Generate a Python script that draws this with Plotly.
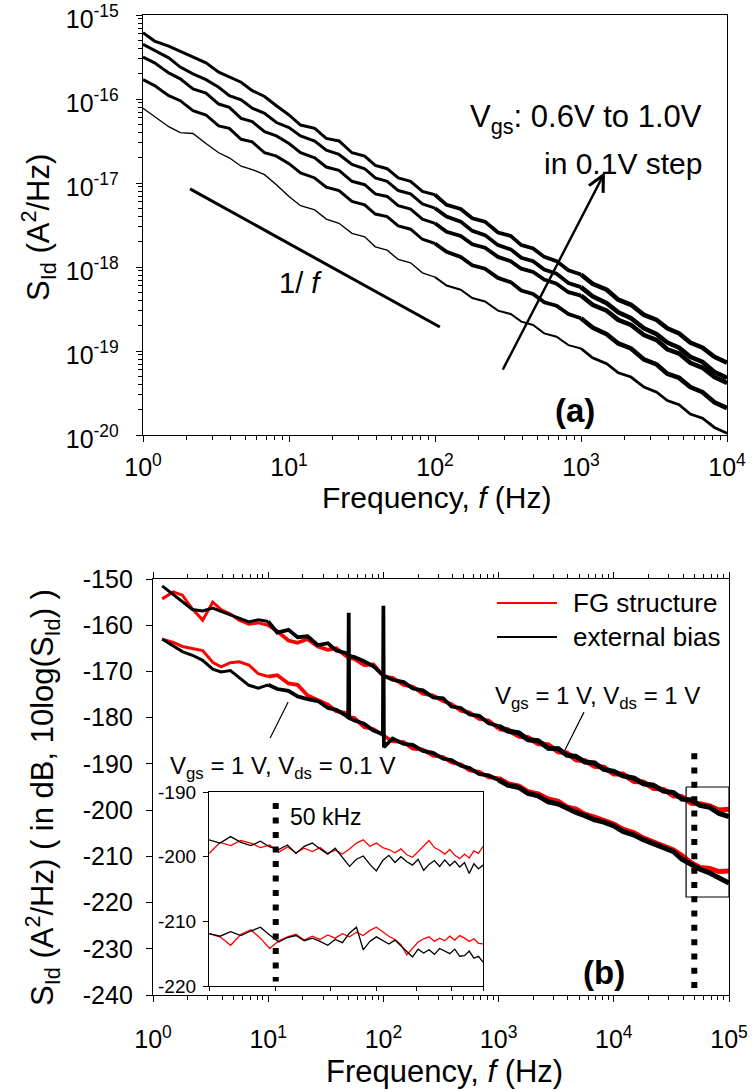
import plotly.graph_objects as go

W, H = 752, 1091
FONT = "Liberation Sans, Arial, Helvetica, sans-serif"

# ---------------- Panel (a): S_Id vs f, Vgs 0.6 .. 1.0 V (log10 of A^2/Hz) ----------------
F_A = [1, 1.2, 1.5, 1.8, 2.2, 2.7, 3.3, 3.9, 4.7, 5.6, 6.8, 8.2,
       10, 12, 15, 18, 22, 27, 33, 39, 47, 56, 68, 82,
       100, 120, 150, 180, 220, 270, 330, 390, 470, 560, 680, 820,
       1000, 1200, 1500, 1800, 2200, 2700, 3300, 3900, 4700, 5600, 6800, 8200, 10000]

LOG_S_VGS10 = [-15.21, -15.31, -15.37, -15.43, -15.50, -15.57, -15.68, -15.74, -15.80, -15.90, -15.97, -16.08,
               -16.19, -16.31, -16.35, -16.47, -16.50, -16.64, -16.68, -16.79, -16.83, -16.94, -16.98, -17.10,
               -17.14, -17.26, -17.31, -17.42, -17.46, -17.59, -17.63, -17.74, -17.78, -17.88, -17.93, -18.04,
               -18.09, -18.20, -18.27, -18.39, -18.45, -18.57, -18.63, -18.73, -18.79, -18.90, -18.96, -19.07, -19.14]
LOG_S_VGS09 = [-15.35, -15.42, -15.51, -15.62, -15.70, -15.77, -15.86, -15.96, -16.01, -16.11, -16.17, -16.28,
               -16.34, -16.44, -16.50, -16.61, -16.66, -16.78, -16.83, -16.94, -16.98, -17.09, -17.13, -17.25,
               -17.30, -17.40, -17.46, -17.57, -17.62, -17.74, -17.79, -17.89, -17.93, -18.03, -18.08, -18.19,
               -18.24, -18.35, -18.43, -18.54, -18.61, -18.73, -18.80, -18.90, -18.96, -19.07, -19.13, -19.25, -19.32]
LOG_S_VGS08 = [-15.50, -15.57, -15.69, -15.76, -15.88, -15.93, -16.06, -16.10, -16.23, -16.27, -16.39, -16.44,
               -16.53, -16.64, -16.70, -16.81, -16.85, -16.98, -17.02, -17.13, -17.16, -17.27, -17.31, -17.43,
               -17.48, -17.58, -17.63, -17.73, -17.77, -17.88, -17.93, -18.02, -18.06, -18.15, -18.20, -18.30,
               -18.34, -18.45, -18.52, -18.63, -18.69, -18.81, -18.87, -18.98, -19.03, -19.14, -19.20, -19.31, -19.38]
LOG_S_VGS07 = [-15.77, -15.84, -15.96, -16.02, -16.14, -16.19, -16.32, -16.35, -16.48, -16.51, -16.64, -16.68,
               -16.77, -16.88, -16.94, -17.05, -17.09, -17.22, -17.26, -17.37, -17.40, -17.51, -17.55, -17.67,
               -17.72, -17.82, -17.88, -17.98, -18.02, -18.13, -18.18, -18.28, -18.32, -18.42, -18.46, -18.56,
               -18.61, -18.72, -18.80, -18.91, -18.97, -19.10, -19.16, -19.27, -19.32, -19.43, -19.49, -19.61, -19.68]
LOG_S_VGS06 = [-16.11, -16.21, -16.33, -16.40, -16.41, -16.53, -16.64, -16.70, -16.80, -16.84, -16.90, -17.02,
               -17.16, -17.27, -17.32, -17.43, -17.48, -17.60, -17.64, -17.76, -17.80, -17.91, -17.95, -18.07,
               -18.12, -18.22, -18.27, -18.37, -18.41, -18.52, -18.56, -18.65, -18.69, -18.79, -18.83, -18.93,
               -18.97, -19.08, -19.15, -19.26, -19.31, -19.43, -19.49, -19.59, -19.64, -19.75, -19.80, -19.91, -19.98]

# 1/f guide line (two end points, Hz and A^2/Hz)
GUIDE_F = [2.1, 108]
GUIDE_S = [8.5e-18, 1.93e-19]

A_XTICKS = [1, 10, 100, 1000, 10000]
A_XTEXT = ["10<sup>0</sup>", "10<sup>1</sup>", "10<sup>2</sup>", "10<sup>3</sup>", "10<sup>4</sup>"]
A_YTICKS = [1e-20, 1e-19, 1e-18, 1e-17, 1e-16, 1e-15]
A_YTEXT = ["10<sup>-20</sup>", "10<sup>-19</sup>", "10<sup>-18</sup>",
           "10<sup>-17</sup>", "10<sup>-16</sup>", "10<sup>-15</sup>"]

# ---------------- Panel (b): S_Id in dB, FG structure vs external bias ----------------
F_B = [1.2, 1.5, 1.8, 2.2, 2.7, 3.3, 3.9, 4.7, 5.6, 6.8, 8.2,
       10, 12, 15, 18, 22, 27, 33, 39, 47, 49.5, 50, 50.5, 56, 68, 82, 99, 100, 101,
       120, 150, 180, 220, 270, 330, 390, 470, 560, 680, 820,
       1000, 1200, 1500, 1800, 2200, 2700, 3300, 3900, 4700, 5600, 6800, 8200,
       10000, 12000, 15000, 18000, 22000, 27000, 33000, 39000, 47000, 56000, 68000, 82000, 100000]

DB_VDS1_EXT = [-151.5, -153.4, -155.0, -156.6, -156.9, -156.3, -157.0, -157.8, -158.6, -159.3, -158.8,
               -159.2, -161.6, -161.0, -162.6, -162.4, -164.3, -163.9, -165.5, -166.0, -166.4, -166.5, -166.6,
               -166.9, -167.8, -168.9, -170.6, -170.8, -170.9,
               -171.8, -172.3, -173.7, -174.1, -175.6, -175.8, -177.6, -177.9, -179.3, -179.6, -181.2,
               -181.8, -182.9, -183.3, -184.8, -185.0, -186.6, -186.7, -188.1, -188.4, -189.6, -189.8, -191.2,
               -191.6, -192.6, -193.1, -194.3, -194.6, -195.9, -196.2, -197.6, -197.8, -199.0, -199.4, -200.7, -201.4]
DB_VDS1_FG = [-154.3, -152.8, -153.5, -156.5, -158.9, -155.0, -156.6, -157.6, -158.9, -159.8, -159.5,
              -160.0, -161.3, -163.3, -163.8, -163.0, -164.6, -165.3, -165.0, -166.6, -166.9, -167.0, -167.1,
              -167.3, -168.6, -168.5, -170.9, -171.1, -171.2,
              -171.4, -172.9, -173.3, -174.8, -175.2, -176.4, -177.1, -178.5, -178.9, -180.3, -180.6,
              -182.4, -182.6, -184.0, -184.3, -185.6, -185.9, -187.4, -187.6, -189.1, -189.3, -190.5, -190.7,
              -192.2, -192.2, -193.8, -193.9, -195.3, -195.5, -196.9, -197.1, -198.5, -198.6, -199.1, -200.0, -199.8]
DB_VDS01_EXT = [-163.0, -164.4, -165.7, -166.5, -167.6, -169.5, -170.1, -169.8, -171.4, -173.0, -173.6,
                -172.9, -173.8, -174.2, -175.4, -176.0, -176.4, -177.9, -178.3, -179.5, -180.0, -157.3, -180.1,
                -180.6, -181.3, -182.8, -183.6, -155.8, -186.4,
                -184.5, -185.7, -185.9, -187.2, -187.6, -188.9, -189.2, -190.4, -190.9, -192.2, -192.5,
                -193.5, -194.6, -195.1, -196.4, -196.9, -198.2, -198.7, -199.6, -200.5, -201.2, -202.1, -202.6,
                -203.4, -204.6, -205.4, -206.4, -207.2, -208.3, -209.0, -210.6, -211.8, -212.8, -213.6, -214.6, -215.8]
DB_VDS01_FG = [-163.0, -163.7, -164.6, -165.1, -165.5, -168.0, -169.0, -168.1, -167.9, -168.6, -170.5,
               -171.1, -170.8, -172.6, -172.9, -175.2, -176.3, -177.2, -178.6, -179.0, -179.6, -179.8, -179.9,
               -180.1, -182.0, -182.5, -183.8, -184.0, -184.1,
               -185.1, -185.3, -186.7, -186.9, -188.2, -188.5, -189.7, -190.1, -191.4, -191.7, -192.9,
               -193.1, -194.3, -194.8, -196.0, -196.5, -197.6, -198.1, -199.3, -199.8, -200.9, -201.5, -202.3,
               -203.0, -204.1, -204.9, -206.0, -206.8, -207.8, -208.6, -209.8, -211.4, -212.4, -212.6, -213.3, -213.2]

# label pointer lines (Hz, dB)
PTR_VDS1_F = [3767, 5508]
PTR_VDS1_DB = [-187.0, -178.8]
PTR_VDS01_F = [10.4, 14.9]
PTR_VDS01_DB = [-184.4, -176.6]

# zoomed window and 50 kHz marker
ZOOM_F = [42400, 100000]
ZOOM_DB = [-195.0, -218.8]
MARK_F = 50000
MARK_DB_MAIN = [-187.7, -240]
MARK_DB_INSET = [-191.7, -219.3]

B_XTICKS = [1, 10, 100, 1000, 10000, 100000]
B_XTEXT = ["10<sup>0</sup>", "10<sup>1</sup>", "10<sup>2</sup>", "10<sup>3</sup>", "10<sup>4</sup>", "10<sup>5</sup>"]
B_YTICKS = [-240, -230, -220, -210, -200, -190, -180, -170, -160, -150]

# ---------------- Inset: 40 kHz .. 100 kHz ----------------
F_IN = [40000, 41500, 43000, 44500, 46000, 47500, 49000, 50500, 52000, 53500, 55000, 56500, 58000, 59500,
        61000, 62500, 64000, 65500, 67000, 68500, 70000, 71500, 73000, 74500, 76000, 77500, 79000, 80500,
        82000, 83500, 85000, 86500, 88000, 89500, 91000, 92500, 94000, 95500, 97000, 98500, 100000]
IN_VDS1_FG = [-199.5, -197.8, -198.3, -197.5, -197.9, -198.6, -198.2, -199.3, -198.5, -199.4, -198.7, -199.2,
              -198.6, -199.5, -199.0, -199.6, -198.8, -197.9, -197.4, -198.4, -197.9, -198.6, -198.9, -199.4,
              -198.8, -199.7, -200.1, -199.2, -198.3, -197.5, -198.6, -199.0, -199.6, -198.9, -199.8, -200.3,
              -199.6, -200.2, -199.1, -199.5, -198.4]
IN_VDS1_EXT = [-197.4, -197.9, -196.9, -197.8, -198.3, -197.6, -198.5, -198.9, -198.2, -199.5, -198.4, -197.9,
               -198.8, -199.6, -198.7, -200.2, -201.5, -200.4, -199.9, -201.2, -202.2, -200.6, -199.8, -200.9,
               -200.0, -200.8, -201.3, -200.4, -202.1, -201.2, -200.6, -201.5, -200.5, -201.4, -200.7, -201.6,
               -200.9, -202.6, -201.1, -201.9, -201.3]
IN_VDS01_FG = [-211.9, -212.4, -213.7, -212.0, -211.3, -212.6, -214.2, -213.0, -212.4, -212.0, -212.9, -212.3,
               -212.8, -212.1, -212.6, -211.9, -212.4, -211.7, -212.2, -211.4, -210.9, -211.6, -212.3, -212.8,
               -213.6, -215.2, -214.1, -213.2, -212.7, -212.4, -213.1, -212.6, -213.0, -212.3, -212.9, -212.2,
               -212.6, -213.1, -212.7, -213.4, -213.5]
IN_VDS01_EXT = [-211.9, -212.3, -211.6, -212.2, -211.5, -210.9, -212.1, -213.2, -212.5, -212.2, -213.0, -212.6,
                -213.1, -213.7, -212.8, -213.3, -211.8, -210.9, -214.4, -213.1, -212.4, -212.9, -213.5, -212.9,
                -213.8, -214.6, -215.5, -214.3, -214.9, -214.4, -215.1, -214.2, -214.6, -215.0, -214.3, -215.4,
                -215.3, -214.6, -215.7, -215.4, -216.3]
IN_XTICKS = [40000, 50000, 60000, 70000, 80000, 90000, 100000]
IN_YTICKS = [-220, -210, -200, -190]

RED = "#ff0000"
BLK = "#000000"


def px(x, y):
    """pixel position in the 752x1091 page -> paper coordinates"""
    return x / W, 1 - y / H


fig = go.Figure()


def add_curve(xs, ys, color, segments, xaxis, yaxis):
    """draw one measured series; the noisy high-frequency part is drawn with a wider stroke"""
    for i0, i1, lw in segments:
        fig.add_trace(go.Scatter(x=xs[i0:i1 + 1], y=ys[i0:i1 + 1], mode="lines",
                                 line=dict(color=color, width=lw),
                                 xaxis=xaxis, yaxis=yaxis, showlegend=False, hoverinfo="skip"))


# panel (a) curves (indices: 24 -> 100 Hz, 36 -> 1 kHz, 48 -> 10 kHz)
SEG_A_THICK = [(0, 24, 3.0), (24, 36, 3.8), (36, 48, 4.6)]
SEG_A_THIN = [(0, 24, 1.4), (24, 36, 2.0), (36, 48, 2.8)]
add_curve(F_A, [10 ** v for v in LOG_S_VGS06], BLK, SEG_A_THIN, "x", "y")
for logs in (LOG_S_VGS07, LOG_S_VGS08, LOG_S_VGS09, LOG_S_VGS10):
    add_curve(F_A, [10 ** v for v in logs], BLK, SEG_A_THICK, "x", "y")
fig.add_trace(go.Scatter(x=GUIDE_F, y=GUIDE_S, mode="lines", line=dict(color=BLK, width=3),
                         xaxis="x", yaxis="y", showlegend=False))

# panel (b) curves (indices: 11 -> 10 Hz, 40 -> 1 kHz, 64 -> 100 kHz)
SEG_B = [(0, 11, 3.0), (11, 40, 3.8), (40, 64, 5.0)]
for ys, col in [(DB_VDS1_FG, RED), (DB_VDS01_FG, RED), (DB_VDS1_EXT, BLK), (DB_VDS01_EXT, BLK)]:
    add_curve(F_B, ys, col, SEG_B, "x2", "y2")
for fx, dy in [(PTR_VDS1_F, PTR_VDS1_DB), (PTR_VDS01_F, PTR_VDS01_DB)]:
    fig.add_trace(go.Scatter(x=fx, y=dy, mode="lines", line=dict(color=BLK, width=1.2),
                             xaxis="x2", yaxis="y2", showlegend=False))
fig.add_trace(go.Scatter(x=[ZOOM_F[0], ZOOM_F[1], ZOOM_F[1], ZOOM_F[0], ZOOM_F[0]],
                         y=[ZOOM_DB[0], ZOOM_DB[0], ZOOM_DB[1], ZOOM_DB[1], ZOOM_DB[0]],
                         mode="lines", line=dict(color=BLK, width=1.2),
                         xaxis="x2", yaxis="y2", showlegend=False))
fig.add_trace(go.Scatter(x=[MARK_F, MARK_F], y=MARK_DB_MAIN, mode="lines",
                         line=dict(color=BLK, width=6, dash="6px,8.3px"),
                         xaxis="x2", yaxis="y2", showlegend=False))

# inset curves
for ys, col in [(IN_VDS1_FG, RED), (IN_VDS01_FG, RED), (IN_VDS1_EXT, BLK), (IN_VDS01_EXT, BLK)]:
    fig.add_trace(go.Scatter(x=F_IN, y=ys, mode="lines", line=dict(color=col, width=1.3),
                             xaxis="x3", yaxis="y3", showlegend=False))
fig.add_trace(go.Scatter(x=[MARK_F, MARK_F], y=MARK_DB_INSET, mode="lines",
                         line=dict(color=BLK, width=6, dash="6px,8.5px"),
                         xaxis="x3", yaxis="y3", showlegend=False))

# ---------------- axes ----------------
ax_common = dict(showline=True, linecolor=BLK, linewidth=1.3, showgrid=False, zeroline=False,
                 ticks="outside", tickcolor=BLK, tickwidth=1.3, color=BLK, automargin=False,
                 ticklabeloverflow="allow")
minor_a = [m * 10 ** e for e in range(0, 4) for m in range(2, 10)]
minor_ay = [m * 10.0 ** e for e in range(-20, -15) for m in range(2, 10)]
minor_b = [m * 10 ** e for e in range(0, 5) for m in range(2, 10)]

xa0, _ = px(143, 0)
xa1, _ = px(727, 0)
_, ya0 = px(0, 435)
_, ya1 = px(0, 15)
xb0, _ = px(153, 0)
xb1, _ = px(729, 0)
_, yb0 = px(0, 995)
_, yb1 = px(0, 579)
xi0, _ = px(209, 0)
xi1, _ = px(483, 0)
_, yi0 = px(0, 986)
_, yi1 = px(0, 792)

TICKF = dict(size=25, family=FONT, color=BLK)

fig.update_layout(
    xaxis=dict(ax_common, type="log", range=[0, 4], domain=[xa0, xa1], anchor="y", mirror=True,
               tickmode="array", tickvals=A_XTICKS, ticktext=A_XTEXT, ticklen=6,
               tickfont=TICKF, ticklabelstandoff=4,
               minor=dict(tickmode="array", tickvals=minor_a, ticks="outside", ticklen=4,
                          tickcolor=BLK, tickwidth=1, showgrid=False)),
    yaxis=dict(ax_common, type="log", range=[-20, -15], domain=[ya0, ya1], anchor="x", mirror=True,
               tickmode="array", tickvals=A_YTICKS, ticktext=A_YTEXT, ticklen=6,
               tickfont=TICKF, ticklabelstandoff=12, ticklabelshift=4,
               minor=dict(tickmode="array", tickvals=minor_ay, ticks="outside", ticklen=4,
                          tickcolor=BLK, tickwidth=1, showgrid=False)),
    xaxis2=dict(ax_common, type="log", range=[0, 5], domain=[xb0, xb1], anchor="y2", mirror="ticks",
                tickmode="array", tickvals=B_XTICKS, ticktext=B_XTEXT, ticklen=6,
                tickfont=TICKF, ticklabelstandoff=16,
                minor=dict(tickmode="array", tickvals=minor_b, ticks="outside", ticklen=4,
                           tickcolor=BLK, tickwidth=1, showgrid=False)),
    yaxis2=dict(ax_common, range=[-240, -150], domain=[yb0, yb1], anchor="x2", mirror=True,
                tickmode="array", tickvals=B_YTICKS, ticktext=[str(v) for v in B_YTICKS], ticklen=6,
                tickfont=TICKF, ticklabelstandoff=8),
    xaxis3=dict(ax_common, type="log", range=[4.60206, 5.0], domain=[xi0, xi1], anchor="y3", mirror=True,
                tickmode="array", tickvals=IN_XTICKS, showticklabels=False, ticklen=4),
    yaxis3=dict(ax_common, range=[-220, -190], domain=[yi0, yi1], anchor="x3", mirror=True,
                tickmode="array", tickvals=IN_YTICKS, ticktext=[str(v) for v in IN_YTICKS], ticklen=5,
                tickfont=dict(size=19, family=FONT, color=BLK), ticklabelstandoff=3),
)

# ---------------- texts ----------------
ann = []


def text(x, y, s, size=24, xanchor="center", yanchor="middle", angle=0, bold=False):
    xp, yp = px(x, y)
    ann.append(dict(x=xp, y=yp, xref="paper", yref="paper", text=("<b>%s</b>" % s) if bold else s,
                    showarrow=False, xanchor=xanchor, yanchor=yanchor, textangle=angle,
                    font=dict(size=size, family=FONT, color=BLK)))


# panel (a)
text(38, 228, "S<sub>Id</sub> (A<sup>2</sup>/Hz)", size=31, angle=-90)
text(437, 497, "Frequency, <i>f</i> (Hz)", size=30)
text(704, 119, "V<sub>gs</sub>: 0.6V to 1.0V", size=31, xanchor="right")
text(704, 163, "in 0.1V step", size=30, xanchor="right")
text(300, 283, "1/ <i>f</i>", size=29)
text(575, 410, "(a)", size=33, bold=True)

# panel (a) arrow
ann.append(dict(x=3.164, y=-16.87, ax=2.459, ay=-19.24, xref="x", yref="y", axref="x", ayref="y",
                showarrow=True, arrowhead=5, arrowsize=1.3, arrowwidth=2.4, arrowcolor=BLK, text=""))

# panel (b)
text(42, 798, "S<sub>Id</sub> (A<sup>2</sup>/Hz) ( in dB, 10log(S<sub>Id</sub>) )", size=31, angle=-90)
text(444, 1071, "Frequency, <i>f</i> (Hz)", size=31)
text(597, 697, "V<sub>gs</sub> = 1 V, V<sub>ds</sub> = 1 V", size=24)
text(282, 767, "V<sub>gs</sub> = 1 V, V<sub>ds</sub> = 0.1 V", size=24)
text(288, 817, "50 kHz", size=23, xanchor="left")
text(604, 972, "(b)", size=33, bold=True)
text(571, 603, "FG structure", size=26, xanchor="left")
text(571, 637, "external bias", size=26, xanchor="left")

shapes = []
for yy, col in [(603, RED), (637, BLK)]:
    x0, y0 = px(497, yy)
    x1, _ = px(557, yy)
    shapes.append(dict(type="line", xref="paper", yref="paper", x0=x0, x1=x1, y0=y0, y1=y0,
                       line=dict(color=col, width=2)))

fig.update_layout(annotations=ann, shapes=shapes,
                  width=W, height=H, margin=dict(l=0, r=0, t=0, b=0),
                  paper_bgcolor="white", plot_bgcolor="white", showlegend=False,
                  font=dict(family=FONT, color=BLK))

fig.write_html("out.html", config={"displayModeBar": False},
               post_script="document.body.style.margin='0px'; document.body.style.overflow='hidden';")
